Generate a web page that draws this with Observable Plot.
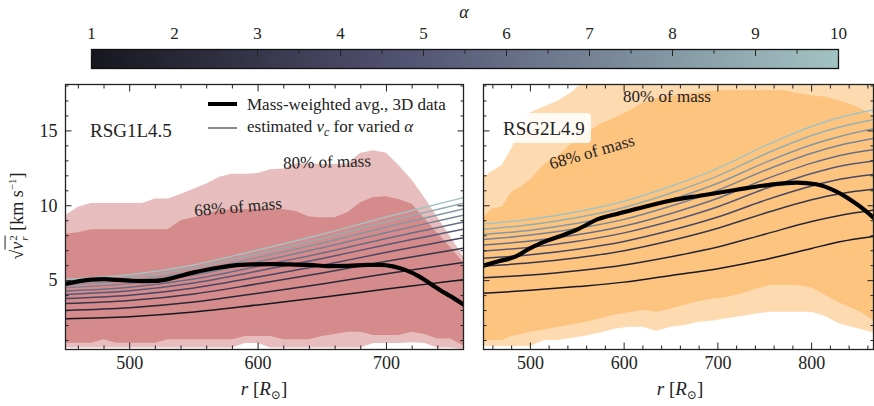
<!DOCTYPE html>
<html><head><meta charset="utf-8">
<script src="https://cdn.jsdelivr.net/npm/d3@7"></script>
<script src="https://cdn.jsdelivr.net/npm/@observablehq/plot@0.6"></script>
<style>
body{margin:0;background:#fff;}
#fig{position:relative;width:874px;height:406px;overflow:hidden;font-family:"Liberation Serif","Times New Roman",Tinos,"DejaVu Serif","Noto Serif",Times,serif;color:#222;background:#fff;}
#fig svg{position:absolute;}
.ov{position:absolute;white-space:nowrap;line-height:1;}
.c{transform:translate(-50%,-50%);}
.l{transform:translateY(-50%);}
</style></head><body><div id="fig"></div>
<script>
// ---------------- data ----------------
const alphaValues = [1,2,3,4,5,6,7,8,9,10];
const colorbarMajor = [1,2,3,4,5,6,7,8,9,10];
const colorbarMinor = [1.5,2.5,3.5,4.5,5.5,6.5,7.5,8.5,9.5];

// Left panel: RSG1L4.5
const leftBandR   = [450,460,470,480,490,500,510,520,530,540,550,560,570,580,590,600,610,620,630,640,650,660,670,680,690,700,710,720,730,740,750,760];
const leftOuterHi = [9.33,9.9,10.15,10.15,10.15,10.15,10.15,10.45,10.45,10.75,11.1,11.45,11.9,12.1,12.1,12.15,12.4,12.45,12.8,12.8,12.75,12.75,12.8,13.5,13.67,13.5,12.65,11.7,10.5,9.2,7.9,6.6];
const leftInnerHi = [8.1,8.2,8.4,8.4,8.4,8.4,8.4,8.4,8.4,9.0,9.2,9.45,9.67,9.75,9.75,9.75,9.75,9.75,9.6,9.25,9.2,9.2,9.55,10.2,10.55,10.6,10.4,10.1,9.1,8.15,7.2,6.2];
const leftInnerLo = [0.82,0.82,0.82,1.05,0.82,0.82,0.82,0.82,1.05,1.05,1.05,1.05,1.05,1.05,1.27,1.27,1.27,1.05,1.05,1.05,1.27,1.4,1.55,1.55,1.33,1.33,1.33,1.55,1.4,1.1,1.1,0.65];
const leftOuterLo = [0.5,0.5,0.5,0.5,0.5,0.5,0.5,0.5,0.5,0.5,0.5,0.5,0.5,0.5,0.8,0.8,0.5,0.5,0.5,0.5,0.5,0.5,0.5,0.5,0.8,0.8,0.8,0.85,0.8,0.5,0.5,0.4];
const leftCurveR = [450,500,550,600,650,700,730,760];
const leftCurves = [
  [2.45,2.59,2.9,3.38,3.89,4.44,4.75,5.06],
  [3.01,3.19,3.57,4.16,4.78,5.46,5.84,6.22],
  [3.47,3.67,4.11,4.79,5.51,6.29,6.73,7.17],
  [3.8,4.02,4.51,5.25,6.03,6.89,7.38,7.86],
  [4.08,4.32,4.84,5.64,6.48,7.4,7.92,8.44],
  [4.31,4.56,5.11,5.96,6.84,7.82,8.37,8.91],
  [4.53,4.8,5.37,6.26,7.19,8.21,8.79,9.37],
  [4.73,5.01,5.61,6.54,7.52,8.58,9.19,9.79],
  [4.92,5.21,5.84,6.8,7.82,8.93,9.55,10.18],
  [5.1,5.4,6.05,7.05,8.1,9.25,9.9,10.55]
];
const leftAvgR = [450,460,470,480,490,500,510,520,530,540,550,560,570,580,595,610,625,640,655,670,685,695,705,715,725,735,745,752,760];
const leftAvgV = [4.78,4.95,5.07,5.1,5.05,5.0,4.97,4.98,5.1,5.33,5.55,5.73,5.88,6.0,6.08,6.1,6.08,6.05,5.97,5.98,6.05,6.05,5.95,5.7,5.3,4.75,4.2,3.85,3.4];

// Right panel: RSG2L4.9
const rightBandR   = [450,460,470,480,490,500,515,530,545,560,575,590,605,620,635,650,665,680,695,710,725,740,755,770,785,800,815,830,845,855,866];
const rightOuterHi = [11.9,12.3,12.7,13.8,15.2,16.2,16.6,17.0,17.6,18.5,18.5,18.5,18.5,18.5,18.5,18.5,18.5,18.5,18.5,18.5,18.5,18.5,18.5,18.5,18.5,18.5,18.5,18.5,18.5,18.5,18.5];
const rightInnerHi = [9.22,9.8,9.9,10.9,11.25,11.7,12.75,13.3,14.2,14.85,15.45,15.85,16.3,16.85,17.15,17.3,17.45,17.55,17.65,17.7,17.7,17.7,17.7,17.7,17.5,17.35,17.25,17.0,16.7,16.4,16.0];
const rightInnerLo = [1.0,1.0,1.0,1.27,1.4,1.55,1.7,1.89,2.05,2.22,2.45,2.7,2.85,3.0,2.89,3.1,3.35,3.6,3.78,3.89,4.1,4.4,4.67,4.67,4.67,4.5,4.0,3.5,3.1,2.8,2.3];
const rightOuterLo = [0.6,0.6,0.6,0.6,0.6,0.6,1.0,1.0,1.15,1.3,1.5,1.75,1.89,1.89,1.62,1.89,2.0,2.22,2.3,2.45,2.6,2.75,2.89,2.89,2.89,2.89,2.6,2.1,1.85,1.7,1.5];
const rightCurveR = [450,500,550,600,650,700,750,800,830,866];
const rightCurves = [
  [4.15,4.35,4.6,4.9,5.35,5.8,6.4,7.15,7.6,7.96],
  [5.2,5.37,5.66,6.05,6.6,7.25,8.1,8.95,9.35,9.7],
  [5.97,6.19,6.53,7.0,7.68,8.5,9.5,10.4,10.8,11.1],
  [6.5,6.73,7.1,7.62,8.36,9.25,10.36,11.32,11.77,12.1],
  [6.98,7.23,7.63,8.19,8.98,9.94,11.13,12.16,12.64,13.0],
  [7.38,7.64,8.06,8.65,9.49,10.5,11.76,12.85,13.36,13.75],
  [7.75,8.04,8.48,9.09,9.98,11.04,12.36,13.51,14.04,14.5],
  [8.08,8.37,8.83,9.48,10.4,11.5,12.88,14.08,14.63,15.15],
  [8.43,8.74,9.22,9.89,10.85,12.0,13.44,14.69,15.26,15.75],
  [8.78,9.1,9.6,10.3,11.3,12.5,14.0,15.3,15.9,16.4]
];
const rightAvgR = [450,466,484,498,509,530,551,572,594,622,650,684,720,755,784,805,826,844,856,866];
const rightAvgV = [6.0,6.29,6.6,7.11,7.44,7.93,8.44,9.11,9.49,9.93,10.35,10.7,11.07,11.4,11.55,11.44,10.96,10.29,9.75,9.2];

const yMajor = [5,10,15];
const yMinor = [1,2,3,4,6,7,8,9,11,12,13,14,16,17,18];
const leftXMajor = [500,600,700];
const rightXMajor = [500,600,700,800];

// ---------------- helpers ----------------
const FONT = '"Liberation Serif","Times New Roman",Tinos,"DejaVu Serif","Noto Serif",Times,serif';
const colorScale = {type:"linear", domain:[1,4.69,10], range:["#17171f","#515171","#a3c3c3"]};
const curveTable = (rs, rows) => rows.flatMap((vals,i)=>vals.map((v,j)=>({r:rs[j], v, alpha:alphaValues[i]})));
const bandTable = (rs, lo, hi) => rs.map((r,i)=>({r, lo:lo[i], hi:hi[i]}));
const avgTable = (rs, vs) => rs.map((r,i)=>({r, v:vs[i]}));
const minorTicks = (a,b,step,skip) => d3.range(a,b+0.001,step).filter(t=>!skip.includes(t));

const fig = document.getElementById("fig");

function panel(o){
  const xMinor = minorTicks(o.xDomain[0]+10, o.xDomain[1], 20, o.xMajor);
  const marks = [
    Plot.areaY(bandTable(o.bandR,o.outerLo,o.outerHi),{x:"r",y1:"lo",y2:"hi",fill:o.outerColor,clip:true}),
    Plot.areaY(bandTable(o.bandR,o.innerLo,o.innerHi),{x:"r",y1:"lo",y2:"hi",fill:o.innerColor,clip:true}),
    Plot.line(curveTable(o.curveR,o.curves),{x:"r",y:"v",z:"alpha",stroke:"alpha",strokeWidth:1.5,curve:"monotone-x",clip:true}),
    Plot.line(avgTable(o.avgR,o.avgV),{x:"r",y:"v",stroke:"#000",strokeWidth:4.2,curve:"monotone-x",clip:true}),
    Plot.frame({stroke:"#222",strokeWidth:1.3}),
    Plot.axisX(o.xMajor,{anchor:"bottom",tickSize:6.5,dy:-6.5,fill:"none"}),
    Plot.axisX(xMinor,{anchor:"bottom",tickSize:3.5,dy:-3.5,fill:"none"}),
    Plot.axisX(o.xMajor,{anchor:"top",tickSize:6.5,dy:6.5,fill:"none"}),
    Plot.axisX(xMinor,{anchor:"top",tickSize:3.5,dy:3.5,fill:"none"}),
    Plot.axisY(yMajor,{anchor:"left",tickSize:6.5,dx:6.5,fill:"none"}),
    Plot.axisY(yMinor,{anchor:"left",tickSize:3.5,dx:3.5,fill:"none"}),
    Plot.axisY(yMajor,{anchor:"right",tickSize:6.5,dx:-6.5,fill:"none"}),
    Plot.axisY(yMinor,{anchor:"right",tickSize:3.5,dx:-3.5,fill:"none"}),
    Plot.axisX(o.xMajor,{anchor:"bottom",tickSize:0,tickPadding:7,label:null})
  ];
  if (o.yLabels) marks.push(Plot.axisY(yMajor,{anchor:"left",tickSize:0,tickPadding:8,label:null}));
  const svg = Plot.plot({
    width:o.width, height:331,
    marginLeft:o.marginLeft, marginRight:o.marginRight, marginTop:9, marginBottom:57,
    x:{domain:o.xDomain}, y:{domain:[0.4,18.1]},
    color:colorScale,
    style:{fontFamily:FONT,fontSize:"18px",background:"transparent",color:"#222"},
    marks
  });
  svg.style.left = o.left+"px"; svg.style.top = "75px";
  fig.appendChild(svg);
}

// colorbar
const cb = Plot.plot({
  width:874, height:75, marginLeft:91, marginRight:36, marginTop:49, marginBottom:7,
  x:{domain:[1,10]}, y:{domain:[0,1],axis:null},
  color:colorScale,
  style:{fontFamily:FONT,fontSize:"17px",background:"transparent",color:"#222"},
  marks:[
    Plot.raster({x1:1,x2:10,y1:0,y2:1,width:400,height:1,fill:(x,y)=>x,imageRendering:"auto"}),
    Plot.frame({stroke:"#111",strokeWidth:1.3}),
    Plot.axisX(colorbarMajor,{anchor:"top",tickSize:6,dy:6,fill:"none"}),
    Plot.axisX(colorbarMinor,{anchor:"top",tickSize:3.5,dy:3.5,fill:"none"}),
    Plot.axisX(colorbarMajor,{anchor:"top",tickSize:0,tickPadding:11,label:null,tickFormat:d=>String(d)})
  ]
});
cb.style.left="0px"; cb.style.top="0px";
fig.appendChild(cb);

panel({left:0,width:470,marginLeft:65,marginRight:7,xDomain:[450,760],xMajor:leftXMajor,
  bandR:leftBandR,outerLo:leftOuterLo,outerHi:leftOuterHi,innerLo:leftInnerLo,innerHi:leftInnerHi,
  outerColor:"#e7bdbd",innerColor:"#d58b8b",curveR:leftCurveR,curves:leftCurves,avgR:leftAvgR,avgV:leftAvgV,yLabels:true});
panel({left:470,width:404,marginLeft:13,marginRight:1,xDomain:[450,866],xMajor:rightXMajor,
  bandR:rightBandR,outerLo:rightOuterLo,outerHi:rightOuterHi,innerLo:rightInnerLo,innerHi:rightInnerHi,
  outerColor:"#fedab0",innerColor:"#fdc47f",curveR:rightCurveR,curves:rightCurves,avgR:rightAvgR,avgV:rightAvgV,yLabels:false});

// ---------------- text overlays ----------------
function ov(html, css){
  const d=document.createElement("div"); d.className="ov "+(css.cls||"");
  d.innerHTML=html; Object.assign(d.style, css.style||{}); fig.appendChild(d); return d;
}
ov('<i>α</i>',{cls:"c",style:{left:"464px",top:"12px",fontSize:"18px"}});
ov('RSG1L4.5',{cls:"l",style:{left:"90px",top:"130px",fontSize:"19px"}});
ov('RSG2L4.9',{cls:"l",style:{left:"497px",top:"128px",fontSize:"19px",background:"rgba(255,255,255,0.85)",padding:"6px 6px 5px 6px",borderRadius:"4px"}});
// legend
ov('',{style:{left:"208px",top:"102px",width:"29px",height:"4px",background:"#000"}});
ov('',{style:{left:"208px",top:"127px",width:"29px",height:"2px",background:"#8a8a8a"}});
ov('Mass-weighted avg., 3D data',{cls:"l",style:{left:"247px",top:"104px",fontSize:"17px"}});
ov('estimated <i>v</i><sub style="font-size:12px;font-style:italic">c</sub> for varied <i>α</i>',{cls:"l",style:{left:"247px",top:"128px",fontSize:"17px"}});
// annotations
ov('80% of mass',{style:{left:"327px",top:"162px",fontSize:"17px",transform:"translate(-50%,-50%) rotate(-1.5deg)"}});
ov('68% of mass',{style:{left:"238px",top:"207px",fontSize:"17px",transform:"translate(-50%,-50%) rotate(-5deg)"}});
ov('80% of mass',{style:{left:"667px",top:"96px",fontSize:"17px",transform:"translate(-50%,-50%)"}});
ov('68% of mass',{style:{left:"592px",top:"152px",fontSize:"17px",transform:"translate(-50%,-50%) rotate(-16deg)"}});
// axis labels
const xl='<i>r</i> [<i>R</i><sub style="font-size:12px">⊙</sub>]';
ov(xl,{cls:"c",style:{left:"264px",top:"390px",fontSize:"19px"}});
ov(xl,{cls:"c",style:{left:"680px",top:"390px",fontSize:"19px"}});
ov('√<span style="border-top:1px solid #222;padding-top:1px"><i>v</i><span style="display:inline-block;vertical-align:middle;font-size:11px;line-height:1;text-align:left;margin-left:1px"><i style="font-style:normal">2</i><br><i>r</i></span></span> [km s<sup style="font-size:11px">−1</sup>]',
  {style:{left:"18px",top:"216px",fontSize:"18px",transform:"translate(-50%,-50%) rotate(-90deg)"}});
</script></body></html>
